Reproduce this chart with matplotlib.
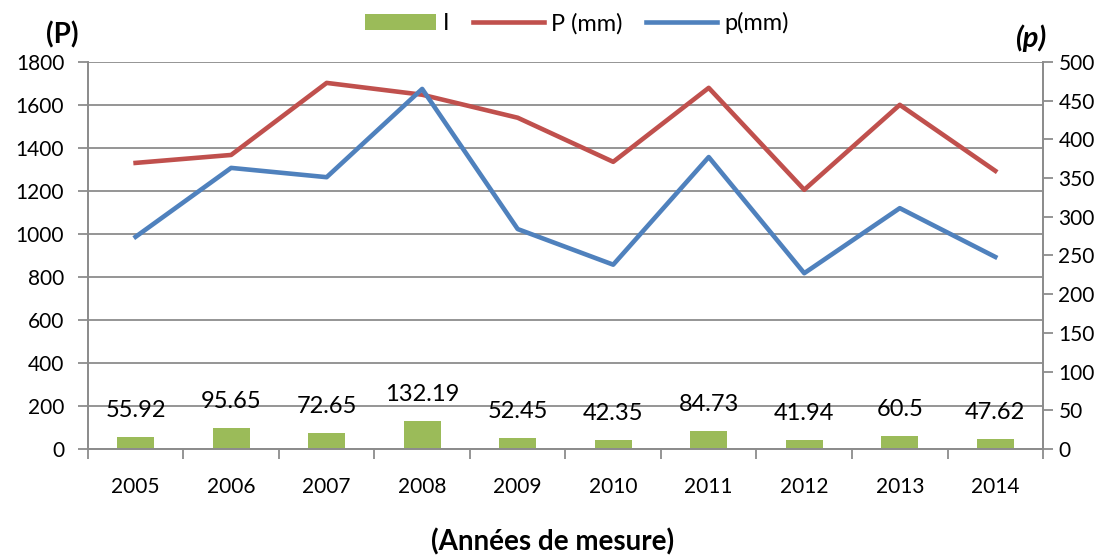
import numpy as np
import matplotlib.pyplot as plt
plt.switch_backend('Agg')

plt.rcParams['font.family'] = ['Lato', 'DejaVu Sans']

years = ['2005', '2006', '2007', '2008', '2009', '2010', '2011', '2012', '2013', '2014']
I_values = [55.92, 95.65, 72.65, 132.19, 52.45, 42.35, 84.73, 41.94, 60.5, 47.62]
P_mm = [1330, 1367, 1702, 1647, 1540, 1335, 1679, 1205, 1600, 1293]
p_mm = [274, 363, 351, 465, 284, 238, 377, 227, 311, 248]

GREEN = '#9BBB59'
RED = '#C0504D'
BLUE = '#4F81BD'
GRID = '#8C8C8C'

fig = plt.figure(figsize=(11.12, 5.57), dpi=100)
ax = fig.add_axes([0.079, 0.194, 0.859, 0.695])
ax2 = ax.twinx()

x = np.arange(len(years))
bars = ax.bar(x, I_values, width=0.39, color=GREEN, label='I', zorder=2)
for xi, v in zip(x, I_values):
    ax.annotate('%g' % v, (xi, v), xytext=(0, 19), textcoords='offset points',
                ha='center', va='center', fontsize=17)
line_P, = ax.plot(x, P_mm, color=RED, lw=3.3, label='P (mm)', zorder=3)
line_p, = ax2.plot(x, p_mm, color=BLUE, lw=3.3, label='p(mm)', zorder=3)

ax.set_xlim(-0.5, len(years) - 0.5)
ax.set_ylim(0, 1800)
ax.set_yticks(np.arange(0, 1801, 200))
ax2.set_ylim(0, 500)
ax2.set_yticks(np.arange(0, 501, 50))

ax.yaxis.grid(True, color=GRID, lw=1.3, zorder=0)
ax.set_axisbelow(True)

# category labels centred, tick marks on the boundaries
ax.set_xticks(x)
ax.set_xticklabels(years)
ax.set_xticks(np.arange(-0.5, len(years)), minor=True)
ax.tick_params(axis='x', which='major', length=0, pad=20, labelsize=15)
ax.tick_params(axis='x', which='minor', length=7, width=1.3, color=GRID)
ax.tick_params(axis='y', length=7, width=1.3, color=GRID, labelsize=15, pad=10)
ax2.tick_params(axis='y', length=7, width=1.3, color=GRID, labelsize=15, pad=4)

for a in (ax, ax2):
    a.spines['top'].set_visible(False)
    for side in ('left', 'right', 'bottom'):
        a.spines[side].set_color(GRID)
        a.spines[side].set_linewidth(1.3)

fig.text(0.056, 0.938, '(P)', fontsize=20, fontweight='bold', ha='center', va='center')
fig.text(0.927, 0.932, '(p)', fontsize=21, fontweight='bold', style='italic', ha='center', va='center')
fig.text(0.497, 0.027, '(Années de mesure)', fontsize=20, fontweight='bold', ha='center', va='center')

fig.legend([bars, line_P, line_p], ['I', 'P (mm)', 'p(mm)'], loc='center',
           bbox_to_anchor=(0.519, 0.958), ncol=3, frameon=False, fontsize=17,
           handlelength=3.0, handletextpad=0.3, columnspacing=1.0)

fig.savefig('out.png', dpi=100)
